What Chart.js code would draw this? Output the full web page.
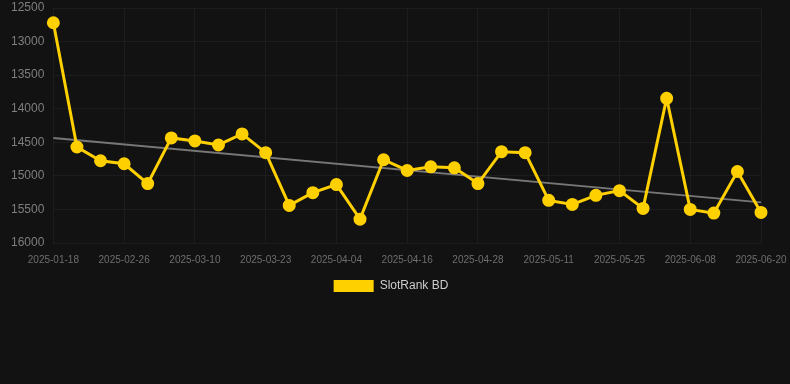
<!DOCTYPE html>
<html lang="en">
<head>
  <meta charset="utf-8" />
  <title>SlotRank BD</title>
  <style>
    * { margin: 0; padding: 0; box-sizing: border-box; }
    body { background: #121212; width: 790px; height: 384px; overflow: hidden; }
    .wrap { position: relative; width: 790px; height: 302px; }
  </style>
</head>
<body>
  <div class="wrap">
    <canvas id="chart"></canvas>
  </div>

  <script src="https://cdn.jsdelivr.net/npm/chart.js@4/dist/chart.umd.min.js"></script>
  <script>
    // dates on the x axis (every third one is labelled)
    const dates = [
      "2025-01-18", "2025-02-14", "2025-02-21", "2025-02-26", "2025-03-02", "2025-03-06",
      "2025-03-10", "2025-03-14", "2025-03-18", "2025-03-23", "2025-03-27", "2025-03-31",
      "2025-04-04", "2025-04-08", "2025-04-12", "2025-04-16", "2025-04-20", "2025-04-24",
      "2025-04-28", "2025-05-02", "2025-05-06", "2025-05-11", "2025-05-15", "2025-05-20",
      "2025-05-25", "2025-05-29", "2025-06-03", "2025-06-08", "2025-06-12", "2025-06-16",
      "2025-06-20"
    ];

    // rank values (lower is better, axis is reversed)
    const rank = [
      12720, 14570, 14775, 14820, 15115, 14435, 14480, 14540, 14375, 14655,
      15440, 15250, 15130, 15645, 14760, 14920, 14865, 14880, 15115, 14640,
      14655, 15365, 15425, 15290, 15220, 15485, 13845, 15500, 15555, 14935,
      15545
    ];

    // trend line end points
    const trendStart = 14435;
    const trendEnd = 15395;
    const trend = dates.map((d, i) => i === 0 ? trendStart : (i === dates.length - 1 ? trendEnd : null));

    const yMin = 12500, yMax = 16000, yStep = 500;

    const gold = "#FFD000";
    const gridColor = "#1d1d1d";
    const font = "Liberation Sans, Arial, sans-serif";

    new Chart(document.getElementById("chart"), {
      type: "line",
      data: {
        labels: dates,
        datasets: [
          {
            label: "SlotRank BD",
            data: rank,
            borderColor: gold,
            backgroundColor: gold,
            borderWidth: 3,
            pointRadius: 5,
            pointHoverRadius: 5,
            pointBackgroundColor: gold,
            pointBorderColor: gold,
            tension: 0
          },
          {
            label: "trend",
            data: trend,
            spanGaps: true,
            borderColor: "#777777",
            borderWidth: 2,
            pointRadius: 0,
            tension: 0
          }
        ]
      },
      options: {
        responsive: true,
        maintainAspectRatio: false,
        animation: false,
        layout: { padding: { top: 0, left: 2, right: 10 } },
        scales: {
          x: {
            grid: { color: gridColor, drawTicks: false },
            border: { color: gridColor },
            afterFit: (s) => { s.paddingRight = 29; },
            ticks: {
              color: "#6e6e6e",
              font: { family: font, size: 10 },
              autoSkip: false,
              maxRotation: 0,
              padding: 11,
              callback: function (v, i) { return i % 3 === 0 ? this.getLabelForValue(v) : null; }
            }
          },
          y: {
            reverse: true,
            min: yMin,
            max: yMax,
            grid: { color: gridColor, drawTicks: false },
            border: { color: gridColor },
            afterFit: (s) => { s.paddingTop = 6; },
            ticks: {
              stepSize: yStep,
              color: "#7e7e7e",
              padding: 9,
              font: { family: font, size: 12 },
              callback: (v) => String(v)
            }
          }
        },
        plugins: {
          tooltip: { enabled: false },
          legend: {
            position: "bottom",
            labels: {
              color: "#cccccc",
              boxWidth: 40,
              boxHeight: 12,
              padding: 3,
              font: { family: font, size: 12 },
              generateLabels: (chart) =>
                Chart.defaults.plugins.legend.labels.generateLabels(chart)
                  .filter((item) => item.datasetIndex === 0)
                  .map((item) => Object.assign(item, { lineWidth: 0 }))
            }
          }
        }
      }
    });
  </script>
</body>
</html>
